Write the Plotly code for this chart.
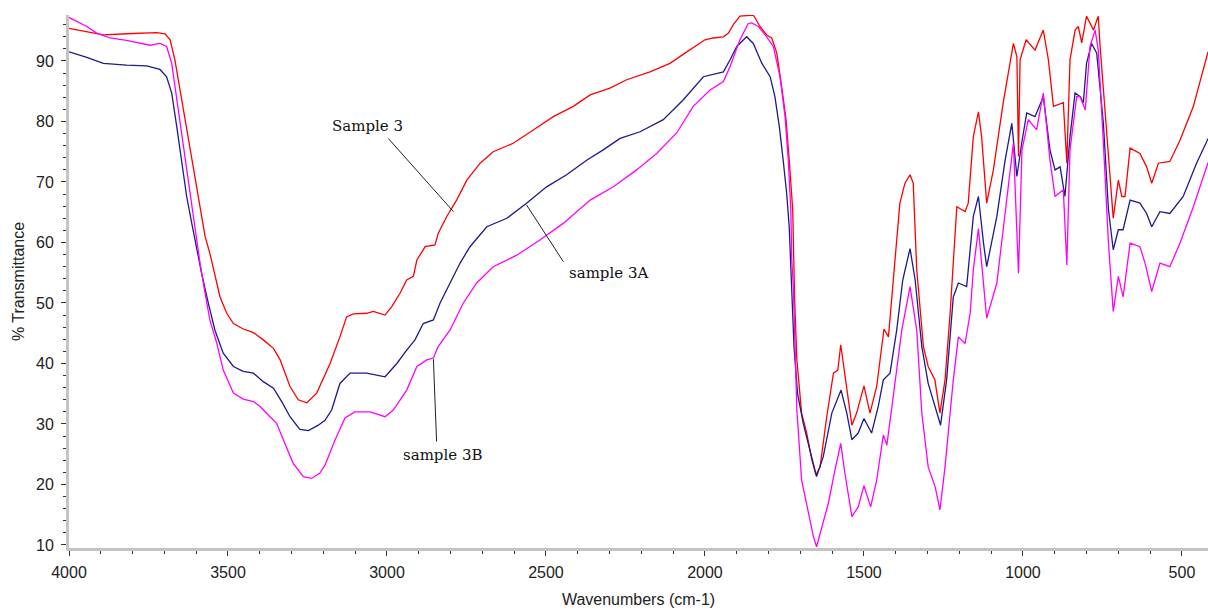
import plotly.graph_objects as go

# ---------------- data ----------------
wn_s3 = [4000, 3944, 3892, 3819, 3766, 3724, 3698, 3682, 3667, 3651, 3635, 3619, 3604, 3588, 3572, 3557,
         3541, 3525, 3504, 3483, 3452, 3420, 3389, 3357, 3336, 3305, 3279, 3252, 3221, 3179, 3148, 3127,
         3106, 3064, 3043, 3006, 2985, 2959, 2938, 2917, 2906, 2880, 2849, 2839, 2812, 2781, 2749, 2707,
         2666, 2603, 2540, 2477, 2414, 2361, 2299, 2246, 2173, 2110, 2057, 2000, 1974, 1942, 1926, 1911,
         1890, 1848, 1827, 1806, 1790, 1774, 1759, 1745, 1735, 1724, 1718, 1711, 1696, 1680, 1664, 1651,
         1638, 1617, 1596, 1582, 1573, 1560, 1538, 1523, 1500, 1481, 1460, 1444, 1437, 1423, 1408, 1387,
         1371, 1355, 1345, 1334, 1313, 1298, 1277, 1261, 1245, 1229, 1208, 1182, 1172, 1156, 1140, 1130,
         1114, 1093, 1062, 1030, 1019, 1014, 1009, 990, 962, 936, 920, 904, 873, 862, 852, 836,
         826, 815, 800, 778, 768, 763, 758, 742, 726, 716, 700, 689, 679, 663, 632, 611,
         595, 574, 538, 506, 464, 422, 418]
t_s3 = [95.4, 94.8, 94.3, 94.5, 94.6, 94.7, 94.5, 93.5, 90.2, 85.2, 80.8, 75.3, 70.9, 65.4, 61.0, 58.2,
        54.4, 51.0, 48.3, 46.6, 45.7, 45.1, 43.9, 42.5, 40.6, 36.2, 34.0, 33.5, 35.1, 40.0, 44.4, 47.7,
        48.2, 48.3, 48.6, 48.0, 49.4, 51.6, 53.8, 54.4, 57.1, 59.3, 59.6, 61.5, 64.3, 67.0, 70.3, 73.1,
        75.0, 76.4, 78.6, 80.8, 82.5, 84.4, 85.5, 86.9, 88.2, 89.6, 91.5, 93.5, 93.8, 94.0, 94.6, 96.0,
        97.4, 97.6, 95.7, 94.3, 93.8, 91.3, 85.8, 80.3, 73.6, 65.4, 50.5, 40.6, 31.8, 28.5, 24.1, 21.6,
        22.9, 31.2, 38.4, 38.9, 43.1, 38.4, 29.8, 31.8, 36.3, 31.8, 36.2, 42.8, 45.7, 44.4, 53.8, 66.5,
        69.8, 71.2, 69.8, 55.5, 42.8, 39.5, 37.3, 31.8, 37.3, 48.3, 65.9, 65.1, 66.5, 77.5, 81.6, 77.5,
        66.5, 72.0, 83.1, 92.9, 90.7, 74.2, 90.2, 93.5, 91.8, 95.1, 90.2, 82.5, 83.1, 73.1, 90.2, 95.1,
        95.7, 93.0, 97.4, 95.1, 96.7, 97.4, 92.9, 81.9, 70.9, 64.0, 70.3, 67.6, 67.6, 75.6, 74.7, 72.5,
        69.8, 73.1, 73.4, 76.9, 82.5, 90.7, 91.5]

wn_s3a = [4000, 3944, 3892, 3819, 3756, 3714, 3693, 3677, 3661, 3646, 3630, 3614, 3598, 3583, 3562, 3541,
          3515, 3483, 3452, 3420, 3389, 3357, 3331, 3305, 3274, 3247, 3216, 3195, 3174, 3148, 3116, 3064,
          3006, 2969, 2938, 2912, 2886, 2854, 2833, 2802, 2770, 2739, 2686, 2623, 2561, 2498, 2435, 2372,
          2320, 2267, 2204, 2131, 2068, 2005, 1942, 1921, 1900, 1869, 1848, 1821, 1795, 1780, 1766, 1754,
          1743, 1735, 1728, 1720, 1709, 1691, 1670, 1649, 1628, 1601, 1572, 1554, 1538, 1518, 1500, 1476,
          1455, 1439, 1418, 1397, 1378, 1355, 1339, 1318, 1298, 1277, 1259, 1240, 1219, 1203, 1177, 1156,
          1140, 1124, 1114, 1082, 1056, 1035, 1019, 1004, 988, 962, 936, 915, 899, 883, 868, 852,
          836, 820, 810, 800, 784, 768, 747, 731, 716, 700, 685, 663, 632, 611, 595, 569,
          538, 496, 454, 422, 418]
t_s3a = [91.5, 90.6, 89.6, 89.3, 89.2, 88.6, 87.4, 84.7, 79.1, 73.6, 67.6, 63.2, 58.8, 54.9, 50.0, 45.5,
         41.7, 39.5, 38.7, 38.4, 37.0, 35.9, 33.7, 31.2, 29.1, 28.9, 29.8, 30.6, 32.3, 36.7, 38.4, 38.4,
         37.8, 40.0, 42.2, 43.9, 46.6, 47.2, 50.0, 53.3, 56.6, 59.3, 62.6, 64.0, 66.5, 69.2, 71.2, 73.6,
         75.3, 77.2, 78.3, 80.3, 83.6, 87.4, 88.2, 90.2, 92.4, 94.0, 92.9, 89.6, 87.4, 84.1, 79.1, 73.6,
         68.1, 62.6, 53.8, 42.8, 35.1, 30.1, 25.7, 21.3, 24.6, 31.8, 35.6, 31.8, 27.4, 28.5, 30.9, 28.5,
         32.9, 37.3, 38.4, 45.5, 53.8, 59.0, 53.8, 42.8, 36.7, 32.9, 29.8, 37.3, 51.0, 53.3, 52.7, 64.3,
         67.6, 59.9, 56.0, 64.3, 73.6, 79.7, 70.9, 76.4, 81.4, 80.8, 84.1, 75.3, 72.0, 72.5, 67.6, 77.5,
         84.7, 84.1, 83.1, 89.6, 92.9, 91.3, 79.7, 65.4, 58.8, 62.1, 62.1, 67.0, 66.5, 64.8, 62.6, 65.1,
         64.8, 67.6, 73.1, 76.7, 77.2]

wn_s3b = [4000, 3944, 3913, 3871, 3819, 3777, 3745, 3714, 3693, 3677, 3667, 3651, 3635, 3619, 3604, 3588,
          3572, 3557, 3535, 3515, 3483, 3452, 3420, 3399, 3368, 3347, 3326, 3295, 3263, 3237, 3211, 3195,
          3163, 3132, 3101, 3053, 3006, 2980, 2938, 2906, 2875, 2854, 2839, 2802, 2760, 2718, 2666, 2592,
          2519, 2445, 2361, 2288, 2215, 2152, 2089, 2037, 1984, 1942, 1921, 1890, 1864, 1853, 1832, 1806,
          1785, 1764, 1748, 1738, 1730, 1727, 1722, 1711, 1696, 1675, 1659, 1649, 1633, 1612, 1591, 1573,
          1560, 1538, 1518, 1500, 1479, 1460, 1439, 1428, 1408, 1381, 1355, 1334, 1318, 1298, 1276, 1261,
          1245, 1219, 1203, 1182, 1166, 1156, 1140, 1114, 1082, 1051, 1030, 1014, 1003, 983, 957, 936,
          915, 899, 873, 862, 852, 831, 820, 804, 789, 773, 763, 747, 731, 716, 700, 685,
          663, 632, 616, 595, 569, 538, 506, 464, 422, 418]
t_s3b = [97.2, 95.7, 94.6, 93.8, 93.4, 93.0, 92.6, 92.9, 92.4, 89.6, 85.8, 80.3, 74.2, 67.6, 62.1, 56.6,
         51.6, 47.2, 43.3, 38.9, 35.1, 34.1, 33.7, 32.9, 31.2, 30.1, 27.4, 23.5, 21.3, 21.0, 21.9, 23.2,
         27.4, 31.0, 32.0, 32.0, 31.2, 32.3, 35.6, 39.5, 40.6, 40.9, 42.8, 45.5, 50.0, 53.3, 56.0, 57.9,
         60.4, 63.2, 67.0, 69.2, 72.0, 74.7, 78.1, 82.5, 85.2, 86.6, 89.1, 93.5, 96.2, 96.3, 95.7, 94.0,
         92.4, 87.4, 80.8, 73.6, 65.4, 57.1, 52.7, 32.3, 20.7, 15.2, 11.4, 9.7, 13.0, 16.9, 22.4, 26.8,
         21.9, 14.7, 16.3, 19.8, 16.3, 20.7, 28.2, 26.5, 34.5, 45.5, 52.7, 45.5, 31.8, 22.9, 19.6, 15.8,
         22.9, 37.3, 44.4, 43.3, 48.3, 55.5, 62.3, 47.5, 53.3, 67.6, 76.4, 54.9, 75.3, 80.3, 78.6, 84.7,
         73.6, 67.6, 68.7, 56.3, 75.3, 84.1, 84.1, 81.9, 92.4, 95.1, 91.8, 76.4, 59.9, 48.6, 54.4, 51.0,
         59.9, 59.3, 56.6, 51.9, 56.6, 56.0, 59.9, 65.9, 72.5, 73.2]

x_tickvals = [4000, 3500, 3000, 2500, 2000, 1500, 1000, 500]
y_tickvals = [10, 20, 30, 40, 50, 60, 70, 80, 90]

# ---------------- figure ----------------
fig = go.Figure()
fig.add_trace(go.Scatter(x=wn_s3, y=t_s3, mode="lines", name="Sample 3",
                         line=dict(color="#FF0000", width=1.3)))
fig.add_trace(go.Scatter(x=wn_s3a, y=t_s3a, mode="lines", name="sample 3A",
                         line=dict(color="#1B1B8C", width=1.3)))
fig.add_trace(go.Scatter(x=wn_s3b, y=t_s3b, mode="lines", name="sample 3B",
                         line=dict(color="#FF00FF", width=1.3)))

label_font = dict(family="DejaVu Serif", size=15, color="#111111")
callouts = [
    # text, text pos (x, y), leader line from -> to
    ("Sample 3", (3060, 79.3), (2996, 77.2), (2791, 65.1)),
    ("sample 3A", (2302, 55.0), (2445, 56.8), (2561, 66.2)),
    ("sample 3B", (2824, 24.9), (2844, 27.1), (2854, 40.7)),
]
for text, (tx, ty), (x0, y0), (x1, y1) in callouts:
    fig.add_annotation(x=tx, y=ty, text=text, showarrow=False, font=label_font,
                       xanchor="center", yanchor="middle")
    fig.add_shape(type="line", x0=x0, y0=y0, x1=x1, y1=y1,
                  line=dict(color="#222222", width=1))

axis_common = dict(
    showgrid=False, zeroline=False, showline=True, linecolor="#C4C4C4", linewidth=3,
    ticks="outside", ticklen=5, tickwidth=1, tickcolor="#333333",
    tickfont=dict(family="Liberation Sans, Arial", size=16, color="#222222"),
    mirror=False,
)

fig.update_layout(
    width=1208, height=611,
    margin=dict(l=69, r=0, t=15, b=63),
    paper_bgcolor="white", plot_bgcolor="white",
    showlegend=False,
    xaxis=dict(
        range=[4000, 418], tickmode="array", tickvals=x_tickvals,
        ticktext=[str(v) for v in x_tickvals],
        minor=dict(dtick=100, tick0=0, ticks="outside", ticklen=3, tickcolor="#333333"),
        title=dict(text="Wavenumbers (cm-1)", standoff=14,
                   font=dict(family="Liberation Sans, Arial", size=16, color="#222222")),
        ticklabelstandoff=3,
        **axis_common,
    ),
    yaxis=dict(
        range=[9.5, 97.6], tickmode="array", tickvals=y_tickvals,
        ticktext=[str(v) for v in y_tickvals],
        minor=dict(dtick=2, tick0=0, ticks="outside", ticklen=3, tickcolor="#333333"),
        title=dict(text="% Transmittance", standoff=8,
                   font=dict(family="Liberation Sans, Arial", size=16, color="#222222")),
        ticklabelstandoff=4,
        **axis_common,
    ),
)

fig.write_html("out.html")
